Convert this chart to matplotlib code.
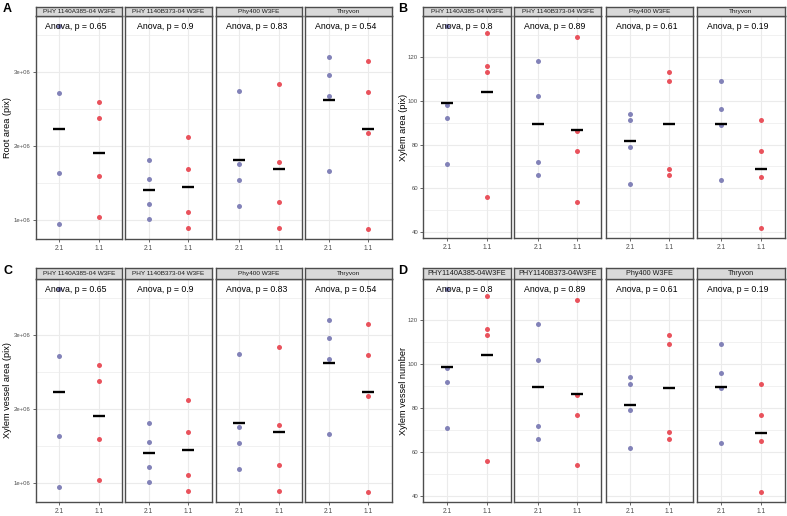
import matplotlib
matplotlib.use("Agg")
import matplotlib.pyplot as plt
import numpy as np

plt.rcParams['font.family'] = ['Liberation Sans', 'DejaVu Sans']

# ---------------- data ----------------
groups = ["2.1", "1.1"]
facets_top = ["PHY 1140A385-04 W3FE", "PHY 1140B373-04 W3FE", "Phy400 W3FE", "Thryvon"]
facets_d = ["PHY1140A385-04W3FE", "PHY1140B373-04W3FE", "Phy400 W3FE", "Thryvon"]

# Root area / Xylem vessel area (pix), per facet
root_21 = [[3.62e6, 2.72e6, 1.63e6, 0.95e6],
           [1.81e6, 1.56e6, 1.22e6, 1.02e6],
           [2.75e6, 1.75e6, 1.54e6, 1.19e6],
           [3.20e6, 2.96e6, 2.68e6, 1.66e6]]
root_11 = [[2.59e6, 2.38e6, 1.60e6, 1.04e6],
           [2.12e6, 1.69e6, 1.11e6, 0.89e6],
           [2.84e6, 1.79e6, 1.24e6, 0.89e6],
           [3.15e6, 2.73e6, 2.18e6, 0.88e6]]
p_root = ["0.65", "0.9", "0.83", "0.54"]

# Xylem area (pix) / Xylem vessel number, per facet
xylem_21 = [[134, 98, 92, 71],
            [118, 102, 72, 66],
            [94, 91, 79, 62],
            [109, 96, 89, 64]]
xylem_11 = [[131, 116, 113, 56],
            [129, 86, 77, 54],
            [113, 109, 69, 66],
            [91, 77, 65, 42]]
p_xylem = ["0.8", "0.89", "0.61", "0.19"]

root_ticks = [1e6, 2e6, 3e6]
root_ticklabels = ["1e+06", "2e+06", "3e+06"]
root_minor = [1.5e6, 2.5e6, 3.5e6]
xylem_ticks = [40, 60, 80, 100, 120]
xylem_ticklabels = ["40", "60", "80", "100", "120"]
xylem_minor = [50, 70, 90, 110, 130]

# ---------------- style ----------------
W, H = 787, 516
BLUE = "#8282B8"
RED = "#E9525C"
BORDER = "#4D4D4D"
GRID = "#EBEBEB"

fig = plt.figure(figsize=(W / 100, H / 100), dpi=100)


def rect(l, t, w, h):
    return [l / W, 1 - (t + h) / H, w / W, h / H]


def draw_group(lefts, fw, ptop, pbot, stop, d21, d11, pvals, strips, ticks,
               ticklabels, minor, ylabel, ylab_x, letter, letter_xy, strip_fs):
    allv = np.concatenate([np.ravel(d21), np.ravel(d11)])
    lo, hi = allv.min(), allv.max()
    pad = (hi - lo) * 0.05
    ylim = (lo - pad, hi + pad)
    for i, left in enumerate(lefts):
        ax = fig.add_axes(rect(left, ptop, fw, pbot - ptop))
        ax.set_xlim(0.4, 2.6)
        ax.set_ylim(*ylim)
        for y in minor:
            ax.axhline(y, color=GRID, lw=0.5, zorder=0)
        for y in ticks:
            ax.axhline(y, color=GRID, lw=0.8, zorder=0)
        for x in (1, 2):
            ax.axvline(x, color=GRID, lw=0.8, zorder=0)
        ax.plot(np.full(len(d21[i]), 1), d21[i], 'o', color=BLUE, ms=3.6,
                mec='none', zorder=2)
        ax.plot(np.full(len(d11[i]), 2), d11[i], 'o', color=RED, ms=3.6,
                mec='none', zorder=2)
        ax.plot([1, 2], [np.mean(d21[i]), np.mean(d11[i])], '_', color='black',
                ms=8.5, mew=1.7, zorder=3, ls='none')
        ax.text(1.43, hi, "Anova, p = " + pvals[i], ha='center', va='center',
                fontsize=6.3, color='black', zorder=4)
        ax.set_xticks([1, 2])
        ax.set_xticklabels(groups, fontsize=4.8, color='#4D4D4D')
        ax.set_yticks(ticks)
        if i == 0:
            ax.set_yticklabels(ticklabels, fontsize=4.3, color='#4D4D4D')
            ax.tick_params(axis='y', length=2.5, width=0.6, color='#4D4D4D', pad=1.2)
        else:
            ax.tick_params(axis='y', length=0, labelleft=False)
        ax.tick_params(axis='x', length=2.5, width=0.6, color='#4D4D4D', pad=2)
        for s in ax.spines.values():
            s.set_color(BORDER)
            s.set_linewidth(1.0)
        sax = fig.add_axes(rect(left, stop, fw, ptop - stop))
        sax.set_facecolor("#D9D9D9")
        sax.set_xticks([])
        sax.set_yticks([])
        for s in sax.spines.values():
            s.set_color(BORDER)
            s.set_linewidth(1.0)
        sax.text(0.5, 0.5, strips[i], ha='center', va='center',
                 fontsize=strip_fs, color='#1A1A1A', transform=sax.transAxes)
    fig.text(ylab_x / W, 1 - (ptop + pbot) / 2 / H, ylabel, rotation=90,
             ha='center', va='center', fontsize=6.6, color='black')
    fig.text(letter_xy[0] / W, 1 - letter_xy[1] / H, letter, ha='left',
             va='center', fontsize=9, fontweight='bold')


left_AC = [35.7, 125.0, 215.7, 305.0]
left_BD = [423.3, 514.0, 606.0, 697.3]

draw_group(left_AC, 86.5, 16, 239, 6.5, root_21, root_11, p_root, facets_top,
           root_ticks, root_ticklabels, root_minor, "Root area (pix)", 8,
           "A", (3, 9), 4.6)
draw_group(left_BD, 87.3, 16, 238, 6.5, xylem_21, xylem_11, p_xylem, facets_top,
           xylem_ticks, xylem_ticklabels, xylem_minor, "Xylem area (pix)", 403,
           "B", (398, 9), 4.6)
draw_group(left_AC, 86.5, 279, 502, 267.5, root_21, root_11, p_root, facets_top,
           root_ticks, root_ticklabels, root_minor, "Xylem vessel area (pix)", 8,
           "C", (3, 271), 4.6)
draw_group(left_BD, 87.3, 279, 502, 267.5, xylem_21, xylem_11, p_xylem, facets_d,
           xylem_ticks, xylem_ticklabels, xylem_minor, "Xylem vessel number", 403,
           "D", (398, 271), 5.2)

fig.savefig("out.png", dpi=100)
